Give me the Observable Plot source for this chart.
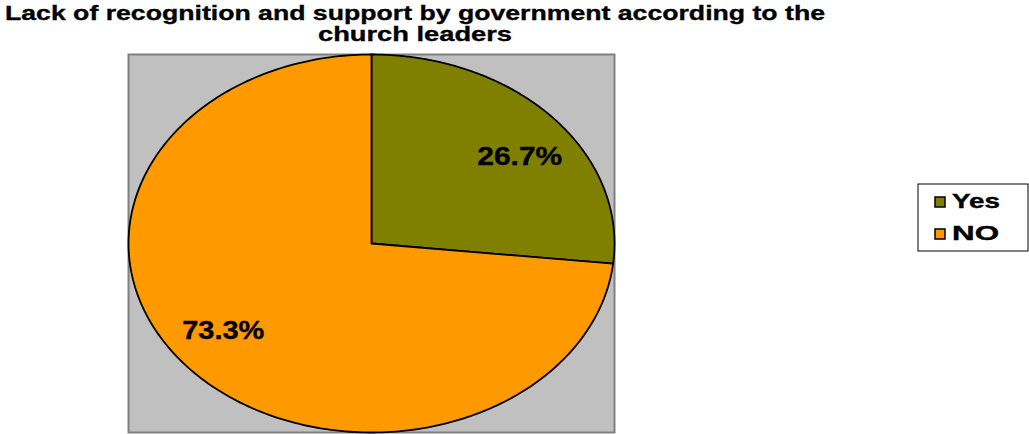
<!DOCTYPE html>
<html>
<head>
<meta charset="utf-8">
<script src="https://cdn.jsdelivr.net/npm/d3@7"></script>
<script src="https://cdn.jsdelivr.net/npm/@observablehq/plot@0.6"></script>
<style>
  html, body { margin: 0; padding: 0; background: #fff; }
  #wrap { position: relative; width: 1029px; height: 434px; font-family: "Liberation Sans", Arial, sans-serif; }
  #wrap svg { position: absolute; left: 0; top: 0; }
</style>
</head>
<body>
<div id="wrap"></div>
<script>
const titleLines = ["Lack of recognition and support by government according to the", "church leaders"];
const categories = ["Yes", "NO"];
const values = [26.7, 73.3];
const labels = ["26.7%", "73.3%"];
const colors = ["#808000", "#ff9900"];

const W = 1029, H = 434;
const pie = d3.pie().sort(null).value(d => d.value).startAngle(0).endAngle(2 * Math.PI);
const rows = categories.map((c, i) => ({category: c, value: values[i], label: labels[i]}));
const arcs = pie(rows);

// polygon points on unit circle (x = sin, y = cos) for each slice
const polys = arcs.map(a => {
  const pts = [{x: 0, y: 0, category: a.data.category}];
  const n = 240;
  for (let k = 0; k <= n; k++) {
    const t = a.startAngle + (a.endAngle - a.startAngle) * k / n;
    pts.push({x: Math.sin(t), y: Math.cos(t), category: a.data.category});
  }
  pts.push({x: 0, y: 0, category: a.data.category});
  return pts;
});
const labelPts = arcs.map(a => {
  const m = (a.startAngle + a.endAngle) / 2;
  return {x: 0.82 * Math.sin(m), y: 0.69 * Math.cos(m), label: a.data.label};
});

const chart = Plot.plot({
  width: W,
  height: H,
  marginLeft: 128,
  marginRight: 415,
  marginTop: 54,
  marginBottom: 2,
  x: {domain: [-1, 1], axis: null},
  y: {domain: [-1, 1], axis: null},
  marks: [
    Plot.frame({fill: "#c0c0c0", stroke: "#808080", strokeWidth: 2}),
    ...polys.map((p, i) => Plot.line(p, {x: "x", y: "y", fill: colors[i], stroke: "#000", strokeWidth: 1.8, strokeLinejoin: "round"})),
    Plot.text(labelPts, {x: "x", y: "y", text: "label", fontSize: 26, fontWeight: "bold", fill: "#000", stroke: "#000", strokeWidth: 0.4, textAnchor: "middle", lineAnchor: "middle", className: "slice-label"})
  ]
});
chart.style.fontFamily = '"Liberation Sans", Arial, sans-serif';
document.getElementById("wrap").appendChild(chart);

const svg = d3.select(chart);
// stretch slice labels horizontally like the reference
const labelWidths = [85, 82];
svg.selectAll(".slice-label text").each(function(d, i) {
  d3.select(this).attr("textLength", labelWidths[i]).attr("lengthAdjust", "spacingAndGlyphs");
});

// title
const tg = svg.append("g").attr("font-weight", "bold").attr("font-size", 21).attr("text-anchor", "middle")
  .attr("fill", "#000").attr("stroke", "#000").attr("stroke-width", 0.35);
const titleWidths = [820, 194];
const titleBase = [20, 41];
titleLines.forEach((t, i) => {
  tg.append("text").attr("x", 415).attr("y", titleBase[i]).attr("textLength", titleWidths[i]).attr("lengthAdjust", "spacingAndGlyphs").text(t);
});

// legend
const lg = svg.append("g").attr("text-anchor", "start");
lg.append("rect").attr("x", 918).attr("y", 184).attr("width", 110).attr("height", 67).attr("fill", "#fff").attr("stroke", "#000").attr("stroke-width", 1);
const legY = [208, 240];
const legW = [48, 47];
categories.forEach((c, i) => {
  lg.append("rect").attr("x", 935).attr("y", legY[i] - 11).attr("width", 10).attr("height", 10).attr("fill", colors[i]).attr("stroke", "#000").attr("stroke-width", 1.5);
  lg.append("text").attr("x", 952).attr("y", legY[i]).attr("font-size", 21).attr("font-weight", "bold")
    .attr("stroke", "#000").attr("stroke-width", 0.4)
    .attr("textLength", legW[i]).attr("lengthAdjust", "spacingAndGlyphs").text(c);
});
</script>
</body>
</html>
